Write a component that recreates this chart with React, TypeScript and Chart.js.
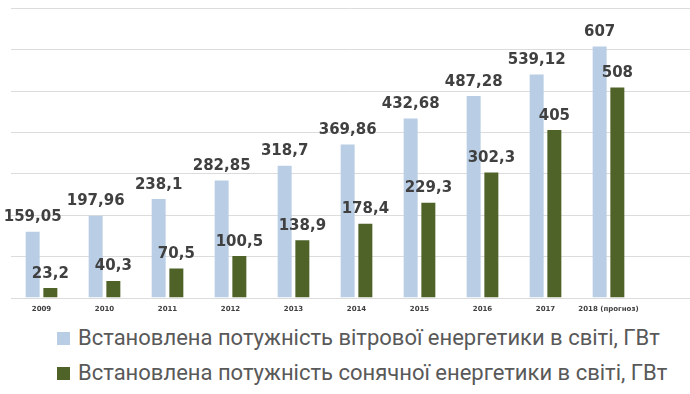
import React, { useEffect, useRef } from "react";
import { Chart, registerables } from "chart.js";

Chart.register(...registerables);

const categories = ["2009", "2010", "2011", "2012", "2013", "2014", "2015", "2016", "2017", "2018 (прогноз)"];
const windValues = [159.05, 197.96, 238.1, 282.85, 318.7, 369.86, 432.68, 487.28, 539.12, 607];
const solarValues = [23.2, 40.3, 70.5, 100.5, 138.9, 178.4, 229.3, 302.3, 405, 508];
const seriesNames = [
  "Встановлена потужність вітрової енергетики в світі, ГВт",
  "Встановлена потужність сонячної енергетики в світі, ГВт",
];
const gridTicks = [0, 100, 200, 300, 400, 500, 600, 700];

const WIND_COLOR = "#b9cde5";
const SOLAR_COLOR = "#4f6228";

const fmt = (v: number) => String(v).replace(".", ",");

const gridPlugin = {
  id: "fullGrid",
  beforeDatasetsDraw(chart: any) {
    const { ctx, scales, width } = chart;
    const y = scales.y;
    ctx.save();
    ctx.strokeStyle = "#dcdcdc";
    ctx.lineWidth = 1;
    for (const v of gridTicks) {
      const py = Math.round(y.getPixelForValue(v)) + 0.5;
      ctx.beginPath();
      ctx.moveTo(chart.chartArea.left + 1, py);
      ctx.lineTo(width, py);
      ctx.stroke();
    }
    ctx.restore();
  },
};

const labelPlugin = {
  id: "valueLabels",
  afterDatasetsDraw(chart: any) {
    const { ctx } = chart;
    ctx.save();
    ctx.font = "bold 15px 'DejaVu Sans'";
    ctx.fillStyle = "#404040";
    ctx.textAlign = "center";
    ctx.textBaseline = "alphabetic";
    chart.data.datasets.forEach((ds: any, i: number) => {
      const meta = chart.getDatasetMeta(i);
      meta.data.forEach((bar: any, j: number) => {
        ctx.fillText(fmt(ds.data[j]), bar.x, bar.y - 10.5);
      });
    });
    ctx.restore();
  },
};

export default function App() {
  const ref = useRef<HTMLCanvasElement | null>(null);

  useEffect(() => {
    document.body.style.margin = "0";
    if (!ref.current) return;
    const chart = new Chart(ref.current, {
      type: "bar",
      data: {
        labels: categories,
        datasets: [
          {
            label: seriesNames[0],
            data: windValues,
            backgroundColor: WIND_COLOR,
            categoryPercentage: 0.562,
            barPercentage: 0.79,
          },
          {
            label: seriesNames[1],
            data: solarValues,
            backgroundColor: SOLAR_COLOR,
            categoryPercentage: 0.562,
            barPercentage: 0.79,
          },
        ],
      },
      options: {
        animation: false,
        responsive: false,
        maintainAspectRatio: false,
        layout: { padding: { left: 10, right: 50, top: 8, bottom: 0 } },
        plugins: {
          legend: { display: false },
          tooltip: { enabled: false },
        },
        scales: {
          y: { display: false, min: 0, max: 700 },
          x: {
            grid: { display: false, drawTicks: false },
            border: { display: false },
            ticks: {
              font: { family: "'DejaVu Sans'", size: 7, weight: "bold" },
              color: "#404040",
              padding: 7,
              maxRotation: 0,
              autoSkip: false,
            },
          },
        },
      },
      plugins: [gridPlugin, labelPlugin],
    });
    return () => chart.destroy();
  }, []);

  const legendRow = (color: string, text: string, top: number) => (
    <div
      style={{
        position: "absolute",
        left: 57,
        top,
        height: 26,
        display: "flex",
        alignItems: "center",
        whiteSpace: "nowrap",
      }}
    >
      <div style={{ width: 13, height: 13, background: color, marginRight: 8 }} />
      <span style={{ fontFamily: "Roboto", fontSize: 22, color: "#595959", lineHeight: "26px" }}>{text}</span>
    </div>
  );

  return (
    <div style={{ position: "relative", width: 690, height: 394, background: "#fff" }}>
      <canvas ref={ref} width={690} height={320} style={{ display: "block" }} />
      {legendRow(WIND_COLOR, seriesNames[0], 325)}
      {legendRow(SOLAR_COLOR, seriesNames[1], 360)}
    </div>
  );
}
